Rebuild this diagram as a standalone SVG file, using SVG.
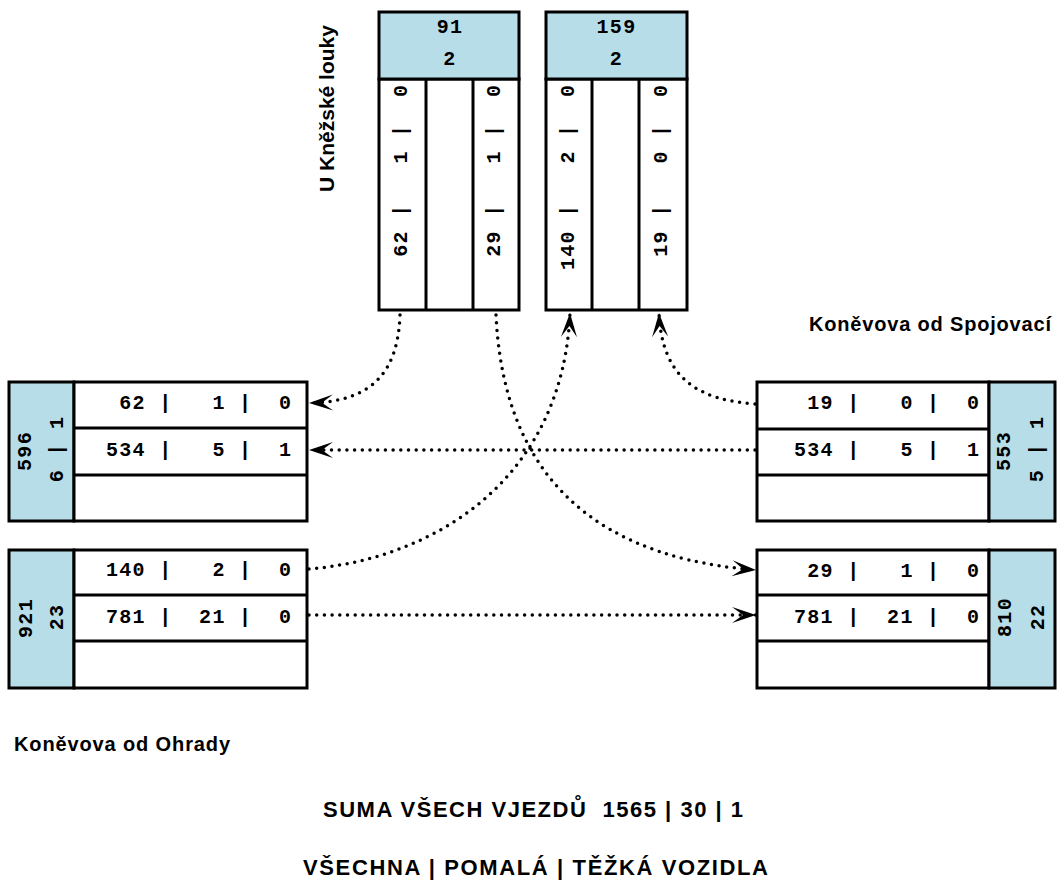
<svg xmlns="http://www.w3.org/2000/svg" width="1058" height="889" viewBox="0 0 1058 889">
  <style>
    .box{fill:#ffffff;stroke:#000;stroke-width:3}
    .hdr{fill:#b7dde8;stroke:#000;stroke-width:3}
    .ln{stroke:#000;stroke-width:3;fill:none}
    .mono{font-family:"Liberation Mono","Courier New",monospace;font-weight:bold;font-size:20px;letter-spacing:1.3px;white-space:pre;fill:#000}
    .lbl{font-family:"Liberation Sans",Arial,sans-serif;font-weight:bold;font-size:20px;white-space:pre;fill:#000}
    .big{font-size:22px}
    .flow{fill:none;stroke:#000;stroke-width:3.5;stroke-linecap:round;stroke-dasharray:0 7.7}
  </style>
  <defs>
    <marker id="arr" markerUnits="userSpaceOnUse" viewBox="0 0 28 20" markerWidth="28" markerHeight="20" refX="26" refY="10" orient="auto">
      <path d="M26,10 L2,2 L13,10 L2,18 Z" fill="#000"/>
    </marker>
  </defs>

  <!-- street labels -->
  <text class="lbl" transform="rotate(-90 334 192)" x="334" y="192" style="font-size:21px" textLength="167" lengthAdjust="spacing">U Kněžské louky</text>
  <text class="lbl" x="809" y="330.5" textLength="242" lengthAdjust="spacing">Koněvova od Spojovací</text>
  <text class="lbl" x="14" y="751" textLength="216" lengthAdjust="spacing">Koněvova od Ohrady</text>
  <text class="lbl big" x="323" y="816.5" textLength="420" lengthAdjust="spacing">SUMA VŠECH VJEZDŮ  1565 | 30 | 1</text>
  <text class="lbl big" x="303" y="875" textLength="465" lengthAdjust="spacing">VŠECHNA | POMALÁ | TĚŽKÁ VOZIDLA</text>

  <!-- top approach, lanes in -->
  <g id="top-in">
    <rect class="box" x="379" y="79" width="140" height="231"/>
    <rect class="hdr" x="379" y="12" width="140" height="67"/>
    <line class="ln" x1="426" y1="79" x2="426" y2="310"/>
    <line class="ln" x1="473" y1="79" x2="473" y2="310"/>
    <text class="mono" x="450" y="33" text-anchor="middle">91</text>
    <text class="mono" x="450" y="65" text-anchor="middle">2</text>
    <text class="mono" transform="rotate(-90 407 270)" x="407" y="270"> 62 |   1 |  0</text>
    <text class="mono" transform="rotate(-90 500 270)" x="500" y="270"> 29 |   1 |  0</text>
  </g>

  <!-- top approach, lanes out -->
  <g id="top-out">
    <rect class="box" x="546" y="79" width="141" height="231"/>
    <rect class="hdr" x="546" y="12" width="141" height="67"/>
    <line class="ln" x1="592" y1="79" x2="592" y2="310"/>
    <line class="ln" x1="639" y1="79" x2="639" y2="310"/>
    <text class="mono" x="616.5" y="33" text-anchor="middle">159</text>
    <text class="mono" x="616.5" y="65" text-anchor="middle">2</text>
    <text class="mono" transform="rotate(-90 574 270)" x="574" y="270">140 |   2 |  0</text>
    <text class="mono" transform="rotate(-90 667 270)" x="667" y="270"> 19 |   0 |  0</text>
  </g>

  <!-- left approach, upper -->
  <g id="left-upper">
    <rect class="hdr" x="9" y="382" width="65" height="139"/>
    <rect class="box" x="74" y="382" width="233" height="139"/>
    <line class="ln" x1="74" y1="428" x2="307" y2="428"/>
    <line class="ln" x1="74" y1="475" x2="307" y2="475"/>
    <text class="mono" transform="rotate(-90 31 451)" x="31" y="451" text-anchor="middle">596</text>
    <text class="mono" transform="rotate(-90 63 449)" x="63" y="449" text-anchor="middle">6 | 1</text>
    <text class="mono" x="106" y="408.5"> 62 |   1 |  0</text>
    <text class="mono" x="106" y="456">534 |   5 |  1</text>
  </g>

  <!-- left approach, lower -->
  <g id="left-lower">
    <rect class="hdr" x="9" y="550" width="65" height="138"/>
    <rect class="box" x="74" y="550" width="233" height="138"/>
    <line class="ln" x1="74" y1="595" x2="307" y2="595"/>
    <line class="ln" x1="74" y1="641" x2="307" y2="641"/>
    <text class="mono" transform="rotate(-90 32 618)" x="32" y="618" text-anchor="middle">921</text>
    <text class="mono" transform="rotate(-90 63 617)" x="63" y="617" text-anchor="middle">23</text>
    <text class="mono" x="106" y="576">140 |   2 |  0</text>
    <text class="mono" x="106" y="622.5">781 |  21 |  0</text>
  </g>

  <!-- right approach, upper -->
  <g id="right-upper">
    <rect class="box" x="757" y="382" width="232" height="139"/>
    <rect class="hdr" x="989" y="382" width="66" height="139"/>
    <line class="ln" x1="757" y1="429" x2="989" y2="429"/>
    <line class="ln" x1="757" y1="475" x2="989" y2="475"/>
    <text class="mono" transform="rotate(-90 1010 451)" x="1010" y="451" text-anchor="middle">553</text>
    <text class="mono" transform="rotate(-90 1042.5 449)" x="1042.5" y="449" text-anchor="middle">5 | 1</text>
    <text class="mono" x="794" y="409"> 19 |   0 |  0</text>
    <text class="mono" x="794" y="456">534 |   5 |  1</text>
  </g>

  <!-- right approach, lower -->
  <g id="right-lower">
    <rect class="box" x="757" y="550" width="232" height="138"/>
    <rect class="hdr" x="989" y="550" width="66" height="138"/>
    <line class="ln" x1="757" y1="595" x2="989" y2="595"/>
    <line class="ln" x1="757" y1="641" x2="989" y2="641"/>
    <text class="mono" transform="rotate(-90 1010.5 617)" x="1010.5" y="617" text-anchor="middle">810</text>
    <text class="mono" transform="rotate(-90 1044 617)" x="1044" y="617" text-anchor="middle">22</text>
    <text class="mono" x="794" y="576.5"> 29 |   1 |  0</text>
    <text class="mono" x="794" y="622.5">781 |  21 |  0</text>
  </g>

  <!-- turning movements -->
  <g id="flows">
    <path class="flow" marker-end="url(#arr)" d="M400,315 C398,372 372,402 309,403"/>
    <path class="flow" marker-end="url(#arr)" d="M496,315 C502,440 560,555 756,570"/>
    <path class="flow" marker-end="url(#arr)" d="M309,569 C440,558 563,475 570,313"/>
    <path class="flow" marker-end="url(#arr)" d="M755,404 C700,400 662,380 659,313"/>
    <path class="flow" marker-end="url(#arr)" d="M755,450 L309,450"/>
    <path class="flow" marker-end="url(#arr)" d="M309,615 L756,615"/>
  </g>
</svg>
